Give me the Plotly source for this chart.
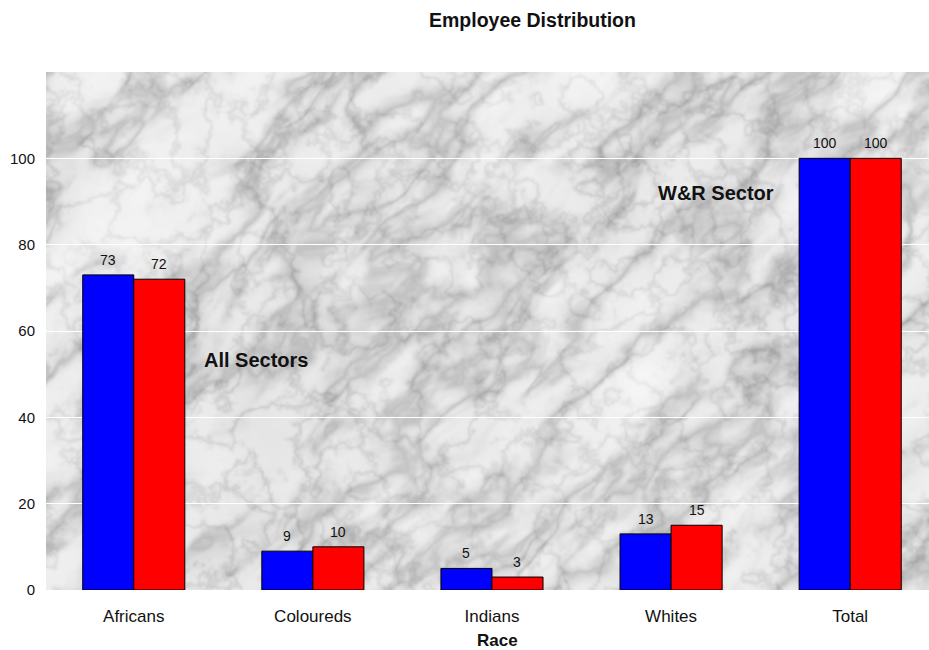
import base64
import struct
import zlib

import numpy as np
import plotly.graph_objects as go

# ---- data -------------------------------------------------------------
races = ["Africans", "Coloureds", "Indians", "Whites", "Total"]
all_sectors = [73, 9, 5, 13, 100]
wr_sector = [72, 10, 3, 15, 100]
y_ticks = [0, 20, 40, 60, 80, 100]

FONT = "Liberation Sans, Arial, sans-serif"
W, H = 929, 650
M_L, M_R, M_T, M_B = 46, 0, 72, 60
PW, PH = W - M_L - M_R, H - M_T - M_B


# ---- marble backdrop for the plotting area -------------------------------
def noise_at(U, V, rng):
    """Smooth value noise sampled at float lattice coordinates U, V (>= 0)."""
    gu = int(U.max()) + 3
    gv = int(V.max()) + 3
    grid = rng.random((gv, gu))
    u0 = np.floor(U).astype(int)
    v0 = np.floor(V).astype(int)
    fu = U - u0
    fv = V - v0
    fu = fu * fu * (3 - 2 * fu)
    fv = fv * fv * (3 - 2 * fv)
    a = grid[v0, u0]
    b = grid[v0, u0 + 1]
    c = grid[v0 + 1, u0]
    d = grid[v0 + 1, u0 + 1]
    return (a * (1 - fu) + b * fu) * (1 - fv) + (c * (1 - fu) + d * fu) * fv


def fbm(U, V, rng, cells, gain=0.55):
    out = np.zeros_like(U)
    amp, tot = 1.0, 0.0
    for cu, cv in cells:
        out += amp * noise_at(U / cu, V / cv, rng)
        tot += amp
        amp *= gain
    return out / tot


def box_blur(a, r):
    k = 2 * r + 1
    p = np.pad(a, r, mode="edge")
    c = np.cumsum(np.cumsum(p, axis=0), axis=1)
    c = np.pad(c, ((1, 0), (1, 0)))
    return (c[k:, k:] - c[:-k, k:] - c[k:, :-k] + c[:-k, :-k]) / (k * k)


def marble(h, w, seed=11):
    rng = np.random.default_rng(seed)
    yy, xx = np.mgrid[0:h, 0:w].astype(float)
    # streaks run bottom-left to top-right
    u = (xx - yy) / np.sqrt(2) + h          # along the streak
    v = (xx + yy) / np.sqrt(2)              # across the streak
    warp = fbm(u, v, rng, [(90, 60), (45, 30), (22, 15)])
    u2 = u + 60 * warp
    v2 = v + 45 * warp
    n1 = fbm(u2, v2, rng, [(140, 55), (70, 28), (35, 14), (18, 8), (9, 5), (4, 3)])
    ridge = 1 - np.abs(2 * n1 - 1) * 2.2
    ridge = np.clip(ridge, 0, 1) ** 3
    n2 = fbm(xx + 5, yy + 5, rng, [(30, 30), (15, 15), (7, 7), (3, 3)])
    ridge2 = np.clip(1 - np.abs(2 * n2 - 1) * 3.0, 0, 1) ** 3
    cloud = fbm(u, v, rng, [(120, 80), (60, 40), (30, 20), (12, 10), (5, 5), (2, 2)])
    g = 238 - 44 * ridge - 22 * ridge2 * (0.5 + cloud) - 24 * (cloud - 0.5)
    g = 0.75 * box_blur(g, 1) + 0.25 * g
    return np.clip(g, 150, 248).astype(np.uint8)


def png_data_uri(arr):
    h, w = arr.shape
    raw = b"".join(b"\x00" + arr[i].tobytes() for i in range(h))

    def chunk(tag, data):
        body = tag + data
        return struct.pack(">I", len(data)) + body + struct.pack(">I", zlib.crc32(body) & 0xFFFFFFFF)

    png = (b"\x89PNG\r\n\x1a\n"
           + chunk(b"IHDR", struct.pack(">IIBBBBB", w, h, 8, 0, 0, 0, 0))
           + chunk(b"IDAT", zlib.compress(raw, 9))
           + chunk(b"IEND", b""))
    return "data:image/png;base64," + base64.b64encode(png).decode()


backdrop = png_data_uri(marble(PH, PW))

# ---- figure -----------------------------------------------------------
fig = go.Figure()
fig.add_trace(go.Bar(
    x=races, y=all_sectors, name="All Sectors",
    marker=dict(color="#0000FF", line=dict(color="#000000", width=1)),
))
fig.add_trace(go.Bar(
    x=races, y=wr_sector, name="W&R Sector",
    marker=dict(color="#FF0000", line=dict(color="#000000", width=1)),
))

annotations = []
# value labels above each bar
for race, v in zip(races, all_sectors):
    annotations.append(dict(x=race, y=v, xref="x", yref="y", text=str(v),
                            showarrow=False, xshift=-25.5, yshift=5, yanchor="bottom",
                            font=dict(family=FONT, size=14, color="#111111")))
for race, v in zip(races, wr_sector):
    annotations.append(dict(x=race, y=v, xref="x", yref="y", text=str(v),
                            showarrow=False, xshift=25.5, yshift=5, yanchor="bottom",
                            font=dict(family=FONT, size=14, color="#111111")))

# series captions inside the plot area
annotations.append(dict(x=0.38, y=53.2, xref="x", yref="y", text="<b>All Sectors</b>",
                        showarrow=False, xanchor="left", yanchor="middle",
                        font=dict(family=FONT, size=20, color="#111111")))
annotations.append(dict(x=3.253, y=91.9, xref="x", yref="y", text="<b>W&R Sector</b>",
                        showarrow=False, xanchor="center", yanchor="middle",
                        font=dict(family=FONT, size=20, color="#111111")))

# chart title and axis title
annotations.append(dict(x=(532 - M_L) / PW, y=1, xref="paper", yref="paper",
                        text="<b>Employee Distribution</b>", showarrow=False,
                        xanchor="center", yanchor="middle", yshift=(M_T - 20),
                        font=dict(family=FONT, size=19.5, color="#111111")))
annotations.append(dict(x=(497 - M_L) / PW, y=0, xref="paper", yref="paper",
                        text="<b>Race</b>", showarrow=False,
                        xanchor="center", yanchor="middle", yshift=-(640 - (H - M_B)),
                        font=dict(family=FONT, size=17, color="#111111")))

fig.update_layout(
    width=W, height=H,
    margin=dict(l=M_L, r=M_R, t=M_T, b=M_B, pad=0),
    barmode="group",
    bargap=0.43,
    bargroupgap=0,
    showlegend=False,
    paper_bgcolor="#FFFFFF",
    plot_bgcolor="#E4E4E4",
    font=dict(family=FONT, size=14, color="#111111"),
    annotations=annotations,
    images=[dict(source=backdrop, xref="paper", yref="paper", x=0, y=1,
                 sizex=1, sizey=1, xanchor="left", yanchor="top",
                 sizing="stretch", layer="below")],
    xaxis=dict(
        type="category",
        range=[-0.49, 4.44],
        showgrid=False, zeroline=False, showline=False,
        ticks="", ticklabelstandoff=14,
        tickfont=dict(family=FONT, size=17, color="#111111"),
    ),
    yaxis=dict(
        range=[0, 120],
        tickvals=y_ticks,
        ticktext=[str(t) for t in y_ticks],
        showgrid=True, gridcolor="#FFFFFF", gridwidth=1,
        zeroline=False, showline=False,
        ticks="", ticklabelstandoff=10,
        tickfont=dict(family=FONT, size=15, color="#111111"),
    ),
)

fig.write_html("out.html")
